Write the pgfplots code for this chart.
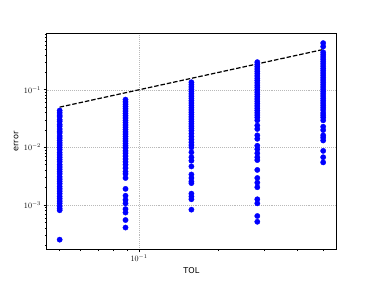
\documentclass[border=0pt]{standalone}
\usepackage{pgfplots}
\pgfplotsset{compat=1.18}
\usepackage{fontspec}
\newfontfamily\dejavu{DejaVu Sans}
\begin{document}
\begin{tikzpicture}
\begin{axis}[name=ax, scale only axis, width=357.1pt, height=266.1pt,
  xmode=log, ymode=log,
  xmin=0.04457, xmax=0.5609, ymin=1.7e-4, ymax=0.95,
  xtick={0.1},
  minor xtick={0.05,0.06,0.07,0.08,0.09,0.2,0.3,0.4,0.5},
  ytick={1e-3,1e-2,1e-1},
  minor ytick={2e-4,3e-4,4e-4,5e-4,6e-4,7e-4,8e-4,9e-4,2e-3,3e-3,4e-3,5e-3,6e-3,7e-3,8e-3,9e-3,2e-2,3e-2,4e-2,5e-2,6e-2,7e-2,8e-2,9e-2,0.2,0.3,0.4,0.5,0.6,0.7,0.8,0.9},
  xtick pos=bottom, ytick pos=left,
  tick align=outside, major tick length=3.5pt, minor tick length=2pt,
  every tick/.style={black, line width=0.8pt},
  axis line style={line width=0.8pt},
  grid=major, major grid style={gray!55, dotted, line width=0.6pt},
  xlabel={TOL}, ylabel={error},
  label style={font=\dejavu},
]
\addplot[only marks, mark=*, mark size=3.3pt, color=blue, mark options={fill=blue, draw=blue}] table {
x y
0.05 0.0437
0.05 0.0398
0.05 0.0363
0.05 0.0339
0.05 0.0302
0.05 0.0282
0.05 0.0251
0.05 0.0234
0.05 0.0209
0.05 0.0191
0.05 0.0178
0.05 0.0158
0.05 0.0145
0.05 0.0132
0.05 0.0120
0.05 0.0110
0.05 0.0100
0.05 0.00912
0.05 0.00813
0.05 0.00741
0.05 0.00676
0.05 0.00617
0.05 0.00562
0.05 0.00501
0.05 0.00457
0.05 0.00417
0.05 0.00380
0.05 0.00347
0.05 0.00309
0.05 0.00282
0.05 0.00257
0.05 0.00234
0.05 0.00209
0.05 0.00191
0.05 0.00174
0.05 0.00158
0.05 0.00141
0.05 0.00129
0.05 0.00117
0.05 0.00107
0.05 0.000955
0.05 0.000871
0.05 0.000813
0.05 0.000251
0.0889 0.0676
0.0889 0.0617
0.0889 0.0562
0.0889 0.0513
0.0889 0.0468
0.0889 0.0427
0.0889 0.0389
0.0889 0.0355
0.0889 0.0324
0.0889 0.0295
0.0889 0.0269
0.0889 0.0245
0.0889 0.0224
0.0889 0.0204
0.0889 0.0186
0.0889 0.0170
0.0889 0.0155
0.0889 0.0141
0.0889 0.0129
0.0889 0.0117
0.0889 0.0107
0.0889 0.00977
0.0889 0.00871
0.0889 0.00794
0.0889 0.00708
0.0889 0.00631
0.0889 0.00562
0.0889 0.00501
0.0889 0.00437
0.0889 0.00380
0.0889 0.00347
0.0889 0.00295
0.0889 0.00191
0.0889 0.00145
0.0889 0.00123
0.0889 0.00107
0.0889 0.000851
0.0889 0.000741
0.0889 0.000550
0.0889 0.000407
0.1581 0.135
0.1581 0.123
0.1581 0.112
0.1581 0.102
0.1581 0.0933
0.1581 0.0851
0.1581 0.0776
0.1581 0.0708
0.1581 0.0646
0.1581 0.0589
0.1581 0.0537
0.1581 0.0490
0.1581 0.0447
0.1581 0.0407
0.1581 0.0372
0.1581 0.0339
0.1581 0.0309
0.1581 0.0282
0.1581 0.0257
0.1581 0.0234
0.1581 0.0214
0.1581 0.0195
0.1581 0.0174
0.1581 0.0155
0.1581 0.0138
0.1581 0.0123
0.1581 0.0110
0.1581 0.0100
0.1581 0.00822
0.1581 0.00676
0.1581 0.00589
0.1581 0.00468
0.1581 0.00339
0.1581 0.00295
0.1581 0.00257
0.1581 0.00240
0.1581 0.00158
0.1581 0.00141
0.1581 0.00126
0.1581 0.000832
0.2812 0.302
0.2812 0.275
0.2812 0.251
0.2812 0.229
0.2812 0.209
0.2812 0.191
0.2812 0.174
0.2812 0.158
0.2812 0.145
0.2812 0.132
0.2812 0.120
0.2812 0.110
0.2812 0.100
0.2812 0.0912
0.2812 0.0832
0.2812 0.0759
0.2812 0.0692
0.2812 0.0631
0.2812 0.0575
0.2812 0.0525
0.2812 0.0479
0.2812 0.0437
0.2812 0.0398
0.2812 0.0363
0.2812 0.0331
0.2812 0.0295
0.2812 0.0240
0.2812 0.0209
0.2812 0.0162
0.2812 0.0141
0.2812 0.0107
0.2812 0.00933
0.2812 0.00794
0.2812 0.00676
0.2812 0.00603
0.2812 0.00407
0.2812 0.00295
0.2812 0.00245
0.2812 0.00204
0.2812 0.00126
0.2812 0.00107
0.2812 0.000646
0.2812 0.000513
0.5 0.646
0.5 0.562
0.5 0.447
0.5 0.407
0.5 0.372
0.5 0.339
0.5 0.309
0.5 0.282
0.5 0.257
0.5 0.234
0.5 0.214
0.5 0.195
0.5 0.178
0.5 0.162
0.5 0.148
0.5 0.135
0.5 0.123
0.5 0.112
0.5 0.102
0.5 0.0933
0.5 0.0851
0.5 0.0776
0.5 0.0708
0.5 0.0646
0.5 0.0589
0.5 0.0537
0.5 0.0490
0.5 0.0447
0.5 0.0398
0.5 0.0363
0.5 0.0331
0.5 0.0295
0.5 0.0229
0.5 0.0200
0.5 0.0162
0.5 0.0148
0.5 0.0132
0.5 0.00871
0.5 0.00676
0.5 0.00550
};
\addplot[black, line width=1.5pt, dash pattern=on 5.55pt off 2.4pt] coordinates {(0.05,0.05) (0.5,0.5)};
\end{axis}
\path[use as bounding box] ([shift={(-57.3pt,-38.3pt)}]ax.south west) rectangle ++(460.8pt,345.6pt);
\end{tikzpicture}
\end{document}
